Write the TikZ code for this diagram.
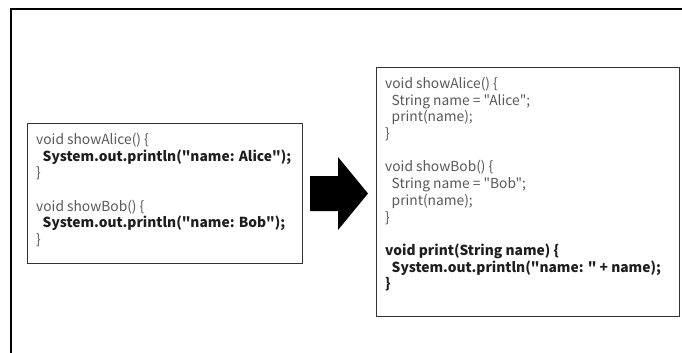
\documentclass[tikz,border=0pt]{standalone}
\usepackage{fontspec}
\setmainfont{Noto Sans CJK JP}[Ligatures=TeXOff]
\begin{document}
\begin{tikzpicture}[x=1pt,y=-1pt,
  frameline/.style={line width=1.6pt,black},
  codebox/.style={draw=black!80,line width=1.2pt,fill=white,anchor=north west,inner sep=0pt},
  codetext/.style={anchor=north west,inner sep=0pt,align=left,text=black!65,
    font=\fontsize{13.8}{16.7}\selectfont},
]
\definecolor{codedark}{HTML}{1E1E1E}
\newcommand{\ind}{\hspace*{6.5pt}}
\newcommand{\hl}[1]{{\bfseries\color{codedark}#1}}
\useasboundingbox (0,0) rectangle (682,353);
\fill[white] (0,0) rectangle (682,353);

% page frame (top and left edges)
\draw[frameline] (11,360) -- (11,9) -- (690,9);

% code before the refactoring
\node[codebox,minimum width=275pt,minimum height=140pt] (before) at (27,123) {};
\node[codetext] (beforecode) at ([shift={(9pt,-10pt)}]before.north west) {%
void showAlice() \{\\
\ind\hl{System.out.println("name: Alice");}\\
\}\\[16.7pt]
void showBob() \{\\
\ind\hl{System.out.println("name: Bob");}\\
\}};

% code after the refactoring
\node[codebox,minimum width=303pt,minimum height=249pt] (after) at (376,67) {};
\node[codetext] (aftercode) at ([shift={(9pt,-10pt)}]after.north west) {%
void showAlice() \{\\
\ind String name = "Alice";\\
\ind print(name);\\
\}\\[16.7pt]
void showBob() \{\\
\ind String name = "Bob";\\
\ind print(name);\\
\}\\[16.7pt]
\hl{void print(String name) \{}\\
\ind\hl{System.out.println("name: " + name);}\\
\hl{\}}};

% block arrow between the two boxes
\fill[black] (310,176) -- (338,176) -- (338,157) -- (368,193.5)
  -- (338,230) -- (338,211) -- (310,211) -- cycle;
\end{tikzpicture}
\end{document}
